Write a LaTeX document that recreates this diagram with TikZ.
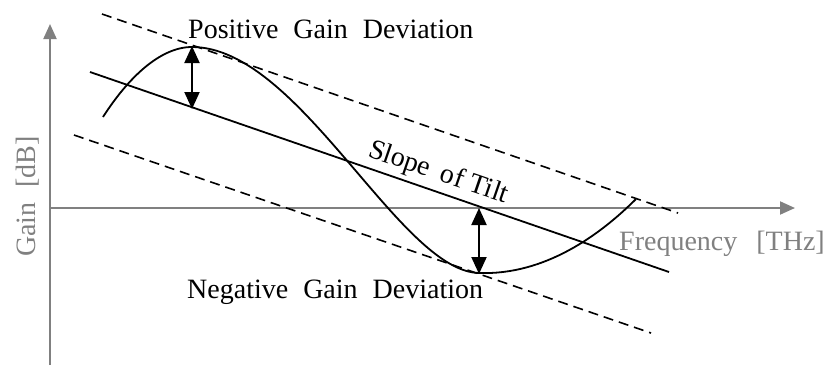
\documentclass[tikz,border=0pt]{standalone}
\usepackage{fontspec}
\setmainfont{Liberation Serif}
\usetikzlibrary{arrows.meta}
\definecolor{axisgray}{RGB}{128,128,128}
\tikzset{
  axisline/.style={draw=axisgray,line width=2pt,-{Triangle[width=13pt,length=15pt]}},
  axislabel/.style={text=axisgray,font=\fontsize{28}{32}\selectfont,inner sep=0pt},
  blacklabel/.style={text=black,font=\fontsize{28}{32}\selectfont,inner sep=0pt},
  dashline/.style={draw=black,line width=1.6pt,dash pattern=on 10pt off 6pt},
  solidline/.style={draw=black,line width=1.8pt},
  devarrow/.style={draw=black,line width=2pt,{Triangle[width=15pt,length=17pt]}-{Triangle[width=15pt,length=17pt]}}
}
\begin{document}
\begin{tikzpicture}[x=1pt,y=-1pt]
\useasboundingbox (0,0) rectangle (827,365);
% axes
\coordinate (yb) at (50,365);
\coordinate (yt) at (50,24);
\coordinate (xl) at (50,208);
\coordinate (xr) at (795,208);
\draw[axisline] (yb) -- (yt);
\draw[axisline] (xl) -- (xr);
% dashed bounds
\coordinate (ua) at (102,14);
\coordinate (ub) at (678,213);
\coordinate (la) at (74,135);
\coordinate (lb) at (651,333);
\draw[dashline] (ua) -- (ub);
\draw[dashline] (la) -- (lb);
% tilt line
\coordinate (ta) at (90,72);
\coordinate (tb) at (669,272);
\draw[solidline] (ta) -- (tb);
% gain curve
\coordinate (c0) at (103,117);
\coordinate (c1) at (192,47);
\coordinate (c2) at (480,273);
\coordinate (c3) at (636,199);
\draw[solidline] (c0) .. controls (128,78) and (160,47) .. (c1)
  .. controls (300,47) and (400,273) .. (c2)
  .. controls (545,275) and (600,235) .. (c3);
% deviation arrows
\coordinate (pa) at (192,46);
\coordinate (pb) at (192,109);
\coordinate (na) at (479,208);
\coordinate (nb) at (479,274);
\draw[devarrow] (pa) -- (pb);
\draw[devarrow] (na) -- (nb);
% labels
\node[blacklabel,anchor=base west] (pos) at (188,38) {Positive\hspace{15pt}Gain\hspace{15pt}Deviation};
\node[blacklabel,anchor=base west] (neg) at (187,298) {Negative\hspace{15pt}Gain\hspace{15pt}Deviation};
\node[blacklabel,anchor=base west,rotate=-19] (slope) at (367,156) {Slope\hspace{12pt}of\hspace{7pt}Tilt};
\node[axislabel,anchor=base west] (freq) at (619,250) {Frequency\hspace{19pt}[THz]};
\node[axislabel,anchor=base west,rotate=90] (gain) at (35,257) {Gain\hspace{15pt}[dB]};
\end{tikzpicture}
\end{document}
